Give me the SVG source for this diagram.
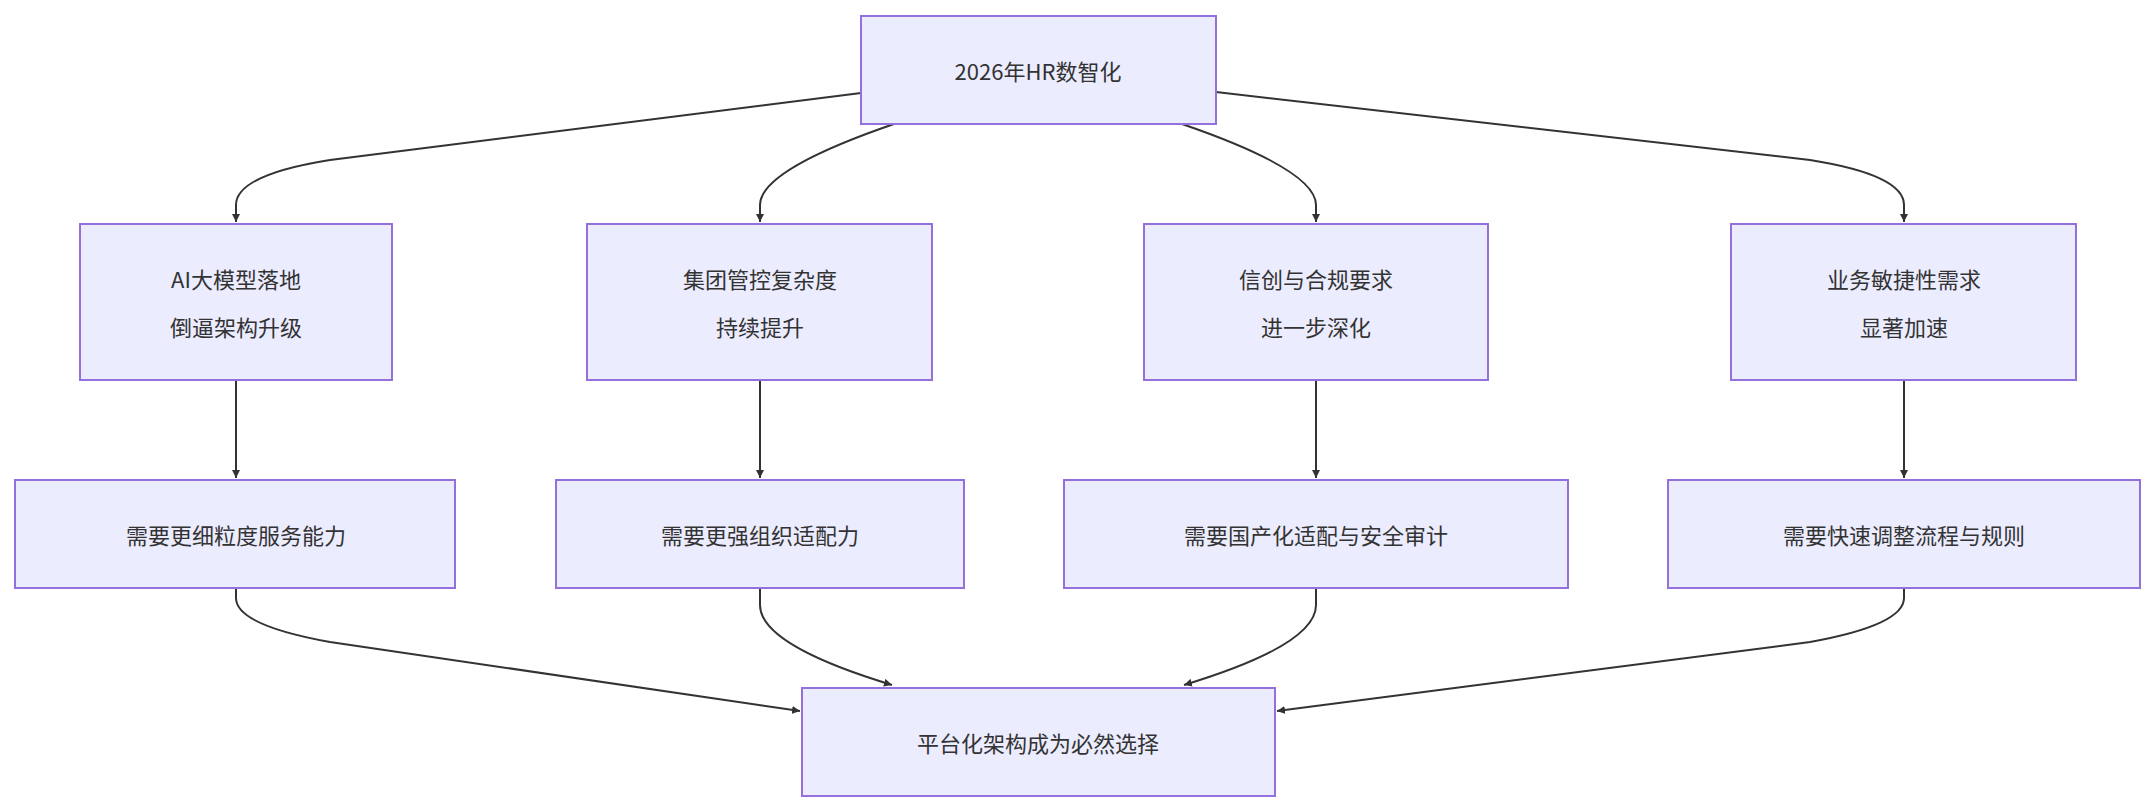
<svg xmlns="http://www.w3.org/2000/svg" width="2156" height="812" viewBox="0 0 2156 812">
<style>
.n rect{fill:#ECECFF;stroke:#9370DB;stroke-width:2}
.n text{font-family:"Noto Sans CJK SC","Liberation Sans",sans-serif;font-size:22px;fill:#333;text-anchor:middle;dominant-baseline:central}
.e path{fill:none;stroke:#333;stroke-width:2;marker-end:url(#a)}
</style>
<defs><marker id="a" viewBox="0 0 10 10" refX="10" refY="5" markerWidth="8" markerHeight="8" orient="auto" markerUnits="userSpaceOnUse"><path d="M0,0L10,5L0,10z" fill="#333"/></marker></defs>
<rect width="2156" height="812" fill="#fff"/>
<g class="e">
<path d="M861,93 L330,160 Q236,175 236,205 L236,222"/>
<path d="M894,124 Q760,170 760,205 L760,222"/>
<path d="M1182,124 Q1316,170 1316,205 L1316,222"/>
<path d="M1216,92 L1810,160 Q1904,175 1904,205 L1904,222"/>
<path d="M236,380 L236,478"/>
<path d="M760,380 L760,478"/>
<path d="M1316,380 L1316,478"/>
<path d="M1904,380 L1904,478"/>
<path d="M236,588 L236,598 Q236,625 330,642 L800,711"/>
<path d="M760,588 L760,605 Q760,645 892,685"/>
<path d="M1316,588 L1316,605 Q1316,645 1184,685"/>
<path d="M1904,588 L1904,598 Q1904,625 1810,642 L1277,711"/>
</g>
<g class="n" id="n0"><rect x="861" y="16" width="355" height="108"/><text x="1038" y="70">2026年HR数智化</text></g>
<g class="n" id="n1"><rect x="80" y="224" width="312" height="156"/><text x="236" y="278">AI大模型落地</text><text x="236" y="326">倒逼架构升级</text></g>
<g class="n" id="n2"><rect x="587" y="224" width="345" height="156"/><text x="760" y="278">集团管控复杂度</text><text x="760" y="326">持续提升</text></g>
<g class="n" id="n3"><rect x="1144" y="224" width="344" height="156"/><text x="1316" y="278">信创与合规要求</text><text x="1316" y="326">进一步深化</text></g>
<g class="n" id="n4"><rect x="1731" y="224" width="345" height="156"/><text x="1904" y="278">业务敏捷性需求</text><text x="1904" y="326">显著加速</text></g>
<g class="n" id="n5"><rect x="15" y="480" width="440" height="108"/><text x="236" y="534">需要更细粒度服务能力</text></g>
<g class="n" id="n6"><rect x="556" y="480" width="408" height="108"/><text x="760" y="534">需要更强组织适配力</text></g>
<g class="n" id="n7"><rect x="1064" y="480" width="504" height="108"/><text x="1316" y="534">需要国产化适配与安全审计</text></g>
<g class="n" id="n8"><rect x="1668" y="480" width="472" height="108"/><text x="1904" y="534">需要快速调整流程与规则</text></g>
<g class="n" id="n9"><rect x="802" y="688" width="473" height="108"/><text x="1038" y="742">平台化架构成为必然选择</text></g>
</svg>
